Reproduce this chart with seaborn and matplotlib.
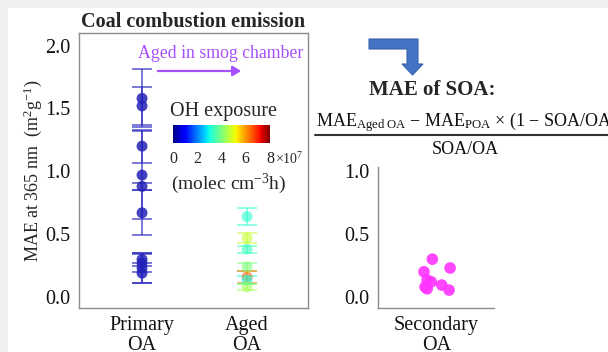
import numpy as np
import pandas as pd
import matplotlib
matplotlib.use("Agg")
import matplotlib.pyplot as plt
import seaborn as sns
from matplotlib.patches import Polygon, Rectangle
from matplotlib.cm import ScalarMappable
from matplotlib.colors import Normalize

# valores
primary_mae = [1.58, 1.52, 1.20, 0.97, 0.88, 0.67, 0.30, 0.27, 0.23, 0.19]
primary_sd = [0.23, 0.15, 0.13, 0.35, 0.03, 0.18, 0.05, 0.07, 0.12, 0.08]
aged_mae = [0.64, 0.47, 0.38, 0.24, 0.16, 0.135, 0.08]
aged_sd = [0.07, 0.04, 0.03, 0.03, 0.05, 0.03, 0.02]
aged_oh = [3.2, 4.7, 3.4, 4.0, 6.4, 3.0, 4.4]  # x10^7 molec cm-3 h
soa_mae = [0.30, 0.23, 0.20, 0.135, 0.12, 0.095, 0.08, 0.065, 0.055]
soa_jitter = [-0.04, 0.13, -0.12, -0.09, -0.05, 0.05, -0.11, -0.09, 0.12]
left_labels = ["Primary\nOA", "Aged\nOA"]
right_labels = ["Secondary\nOA"]

sns.set_theme(style="white")
plt.rcParams["font.family"] = ["Liberation Serif", "DejaVu Serif"]
plt.rcParams["mathtext.fontset"] = "custom"
plt.rcParams["mathtext.rm"] = "Liberation Serif"
plt.rcParams["mathtext.it"] = "Liberation Serif:italic"
plt.rcParams["mathtext.bf"] = "Liberation Serif:bold"

W, H = 608, 352
fig = plt.figure(figsize=(6.08, 3.52), dpi=100)
fig.patch.set_facecolor("#efefef")
fig.patches.append(Rectangle((8 / W, 0), 1, 1 - 8 / H, transform=fig.transFigure,
                             facecolor="white", edgecolor="none", zorder=-10))

def fx(px):
    return px / W

def fy(py):
    return 1 - py / H

spine_c = "#8c8c8c"
ylo = -0.087
jet = plt.get_cmap("jet")
tick_fs = 14.5

# panel izquierdo
ax = fig.add_axes([fx(79), fy(308), fx(308) - fx(79), fy(33) - fy(308)])
df_p = pd.DataFrame({"pos": [0] * len(primary_mae), "mae": primary_mae})
df_a = pd.DataFrame({"pos": [1] * len(aged_mae), "mae": aged_mae, "oh": aged_oh})

ax.errorbar(df_p["pos"], df_p["mae"], yerr=primary_sd, fmt="none", ecolor="#3030c0",
            elinewidth=1.2, capsize=7, capthick=1.2, alpha=0.75, zorder=2)
sns.scatterplot(data=df_p, x="pos", y="mae", ax=ax, color="#2222b8", s=62,
                alpha=0.85, edgecolor="none", zorder=3)
for y, e, o in zip(aged_mae, aged_sd, aged_oh):
    ax.errorbar([1], [y], yerr=[e], fmt="none", ecolor=jet(o / 8), elinewidth=1.2,
                capsize=7, capthick=1.2, alpha=0.6, zorder=2)
sns.scatterplot(data=df_a, x="pos", y="mae", hue="oh", palette=jet, hue_norm=(0, 8),
                ax=ax, s=62, alpha=0.6, edgecolor="none", legend=False, zorder=3)

ax.set_xlim(-0.6, 1.58)
ax.set_ylim(ylo, 2.1)
ax.set_yticks([0.0, 0.5, 1.0, 1.5, 2.0])
ax.set_yticklabels(["0.0", "0.5", "1.0", "1.5", "2.0"])
ax.set_xticks([0, 1])
ax.set_xticklabels(left_labels, linespacing=1.05)
ax.set_xlabel("")
ax.set_ylabel(r"MAE at 365 nm  (m$^{2}$g$^{-1}$)", fontsize=13, labelpad=1)
for s in ax.spines.values():
    s.set_color(spine_c)
    s.set_linewidth(1.0)
ax.tick_params(axis="both", direction="out", length=4, width=1, color=spine_c,
               labelsize=tick_fs, labelcolor="#111111", pad=2)
ax.set_title("Coal combustion emission", fontsize=14.5, fontweight="bold", pad=4, x=0.5)

# texto y flecha de envejecimiento
fig.text(fx(221), fy(53), "Aged in smog chamber", color="#a650ff", fontsize=12.8,
         ha="center", va="center")
fig.patches.append(matplotlib.patches.FancyArrowPatch(
    (fx(155), fy(71)), (fx(244), fy(71)), transform=fig.transFigure,
    arrowstyle="-|>,head_length=5,head_width=3", color="#a650ff", lw=1.6))

# barra de color OH
cax = fig.add_axes([fx(173), fy(143), fx(270) - fx(173), fy(125) - fy(143)])
cb = fig.colorbar(ScalarMappable(norm=Normalize(0, 8), cmap=jet), cax=cax,
                  orientation="horizontal")
cb.outline.set_visible(False)
cb.set_ticks([0, 2, 4, 6, 8])
cax.tick_params(length=0, labelsize=11.5, pad=6)
fig.text(fx(223), fy(111), "OH exposure", fontsize=14.5, ha="center", va="center")
fig.text(fx(275), fy(159), r"$\times$10$^{7}$", fontsize=10, ha="left", va="center")
fig.text(fx(229), fy(184), r"(molec cm$^{-3}$h)", fontsize=14, ha="center", va="center")

# panel derecho
ax2 = fig.add_axes([fx(378), fy(308), fx(494) - fx(378), fy(167) - fy(308)])
df_s = pd.DataFrame({"pos": soa_jitter, "mae": soa_mae})
sns.scatterplot(data=df_s, x="pos", y="mae", ax=ax2, color="#ff33ff", s=70,
                alpha=0.9, edgecolor="none")
ax2.set_xlim(-0.56, 0.55)
ax2.set_ylim(ylo, 1.03)
ax2.set_yticks([0.0, 0.5, 1.0])
ax2.set_yticklabels(["0.0", "0.5", "1.0"])
ax2.set_xticks([0])
ax2.set_xticklabels(right_labels, linespacing=1.05)
ax2.set_xlabel("")
ax2.set_ylabel("")
sns.despine(ax=ax2)
for s in ["left", "bottom"]:
    ax2.spines[s].set_color(spine_c)
    ax2.spines[s].set_linewidth(1.0)
ax2.tick_params(axis="both", direction="out", length=4, width=1, color=spine_c,
                labelsize=tick_fs, labelcolor="#111111", pad=2)

# flecha azul doblada
pts = [(369, 39), (418, 39), (418, 64), (423, 64), (412.5, 75), (402, 64),
       (407, 64), (407, 49), (369, 49)]
fig.patches.append(Polygon([(fx(x), fy(y)) for x, y in pts], closed=True,
                           transform=fig.transFigure, facecolor="#4472c4",
                           edgecolor="#3a62ac", lw=0.8))

# formula MAE de SOA
fig.text(fx(432), fy(90), "MAE of SOA:", fontsize=15, fontweight="bold",
         ha="center", va="center")
fig.text(fx(316), fy(122),
         r"MAE$_{\mathrm{Aged\ OA}}$ $-$ MAE$_{\mathrm{POA}}$ $\times$ (1 $-$ SOA/OA)",
         fontsize=13, ha="left", va="center", color="#111111")
fig.lines.append(matplotlib.lines.Line2D([fx(315), 1.0], [fy(135), fy(135)],
                                         transform=fig.transFigure, color="#333333", lw=1.5))
fig.text(fx(465), fy(149), "SOA/OA", fontsize=13, ha="center", va="center",
         color="#111111")

fig.savefig("out.png", dpi=100, facecolor=fig.get_facecolor())
